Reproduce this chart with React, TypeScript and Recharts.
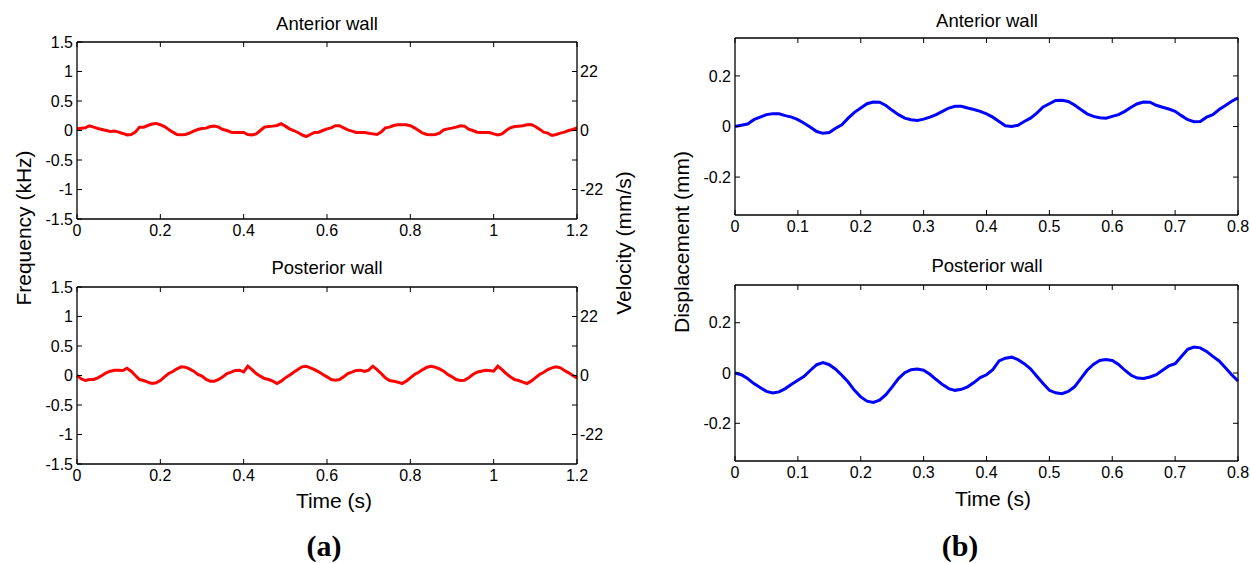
import { LineChart, Line, XAxis, YAxis } from 'recharts';

// time grids (s)
const timeA = Array.from({ length: 121 }, (_, i) => +(i * 0.01).toFixed(2));
const timeB = Array.from({ length: 81 }, (_, i) => +(i * 0.01).toFixed(2));

// (a) Doppler frequency shift, kHz
const anteriorFreq = [
  0.03, 0.04, 0.045, 0.08, 0.057, 0.035, 0.017, 0.0, -0.017, -0.01,
  -0.028, -0.05, -0.074, -0.068, -0.028, 0.057, 0.057, 0.085, 0.11, 0.12,
  0.097, 0.068, 0.017, -0.028, -0.068, -0.074, -0.068, -0.045, -0.011, 0.017,
  0.034, 0.04, 0.068, 0.074, 0.057, 0.017, 0, -0.028, -0.034, -0.034,
  -0.034, -0.068, -0.074, -0.057, 0, 0.057, 0.068, 0.074, 0.085, 0.114,
  0.074, 0.028, 0, -0.034, -0.074, -0.102, -0.068, -0.034, -0.028, 0,
  0.028, 0.045, 0.08, 0.08, 0.045, 0.011, -0.011, -0.034, -0.034, -0.034,
  -0.045, -0.057, -0.068, -0.028, 0.045, 0.057, 0.085, 0.097, 0.097, 0.097,
  0.08, 0.045, 0, -0.045, -0.068, -0.074, -0.068, -0.045, 0.011, 0.028,
  0.04, 0.057, 0.08, 0.074, 0.023, 0, -0.028, -0.034, -0.034, -0.034,
  -0.057, -0.074, -0.057, 0, 0.045, 0.068, 0.074, 0.08, 0.097, 0.102,
  0.068, 0.023, -0.028, -0.045, -0.085, -0.068, -0.045, -0.028, 0, 0.017,
  0.045,
];
const posteriorFreq = [
  0, -0.056, -0.085, -0.068, -0.068, -0.04, 0, 0.045, 0.073, 0.09,
  0.09, 0.085, 0.124, 0.073, 0, -0.068, -0.085, -0.113, -0.136, -0.124,
  -0.085, -0.023, 0.034, 0.068, 0.113, 0.147, 0.141, 0.113, 0.073, 0.017,
  -0.011, -0.068, -0.096, -0.096, -0.068, -0.023, 0.034, 0.056, 0.085, 0.09,
  0.062, 0.158, 0.1, 0.034, -0.011, -0.051, -0.068, -0.096, -0.136, -0.096,
  -0.04, 0.006, 0.056, 0.1, 0.147, 0.158, 0.13, 0.1, 0.062, 0.017,
  -0.023, -0.068, -0.079, -0.068, -0.023, 0.034, 0.056, 0.085, 0.09, 0.068,
  0.09, 0.158, 0.1, 0.034, -0.04, -0.085, -0.096, -0.113, -0.136, -0.096,
  -0.04, 0.017, 0.056, 0.1, 0.141, 0.158, 0.141, 0.113, 0.073, 0.017,
  -0.023, -0.068, -0.085, -0.079, -0.04, 0.017, 0.056, 0.073, 0.09, 0.085,
  0.073, 0.158, 0.1, 0.034, -0.023, -0.068, -0.085, -0.113, -0.136, -0.096,
  -0.04, 0.017, 0.056, 0.1, 0.13, 0.147, 0.13, 0.085, 0.045, 0,
  -0.04,
];

// (b) displacement, mm
const anteriorDisp = [
  0, 0.005, 0.01, 0.027, 0.037, 0.047, 0.05, 0.05, 0.043, 0.037,
  0.027, 0.013, -0.003, -0.02, -0.027, -0.024, -0.007, 0.007, 0.033, 0.056,
  0.073, 0.09, 0.097, 0.096, 0.083, 0.064, 0.047, 0.033, 0.027, 0.024,
  0.029, 0.037, 0.047, 0.06, 0.073, 0.08, 0.08, 0.073, 0.067, 0.06,
  0.05, 0.037, 0.02, 0.003, 0, 0.005, 0.02, 0.033, 0.053, 0.077,
  0.09, 0.103, 0.104, 0.099, 0.085, 0.067, 0.05, 0.04, 0.035, 0.033,
  0.04, 0.047, 0.06, 0.076, 0.09, 0.097, 0.096, 0.084, 0.076, 0.069,
  0.06, 0.043, 0.027, 0.019, 0.02, 0.037, 0.047, 0.067, 0.083, 0.1,
  0.113,
];
const posteriorDisp = [
  0, -0.007, -0.022, -0.042, -0.058, -0.073, -0.079, -0.075, -0.062, -0.045,
  -0.029, -0.013, 0.011, 0.033, 0.041, 0.033, 0.015, -0.009, -0.036, -0.069,
  -0.095, -0.112, -0.117, -0.108, -0.086, -0.055, -0.022, 0.001, 0.013, 0.016,
  0.011, -0.005, -0.026, -0.046, -0.062, -0.069, -0.065, -0.055, -0.038, -0.018,
  -0.007, 0.013, 0.048, 0.059, 0.063, 0.053, 0.037, 0.017, -0.013, -0.042,
  -0.069, -0.079, -0.082, -0.073, -0.055, -0.022, 0.011, 0.034, 0.05, 0.054,
  0.05, 0.034, 0.011, -0.009, -0.02, -0.022, -0.016, -0.007, 0.011, 0.028,
  0.037, 0.066, 0.094, 0.103, 0.1, 0.086, 0.066, 0.048, 0.021, -0.007,
  -0.032,
];

const ticksA = [0, 0.2, 0.4, 0.6, 0.8, 1, 1.2];
const ticksB = [0, 0.1, 0.2, 0.3, 0.4, 0.5, 0.6, 0.7, 0.8];
const freqTicks = [-1.5, -1, -0.5, 0, 0.5, 1, 1.5];
const velTicks = [-22, -11, 0, 11, 22];
const dispTicks = [-0.2, 0, 0.2];

const FONT = '"Liberation Sans", Arial, Helvetica, sans-serif';
const LW = 60;
const RW = 50;
const XH = 30;
const TH = 10; // room for the top (box) axis

const toRows = (t: number[], v: number[]) => t.map((x, i) => ({ t: x, v: v[i] }));
const blank = () => '';

type PanelProps = {
  left: number;
  top: number;
  w: number;
  h: number;
  rows: { t: number; v: number }[];
  color: string;
  xMax: number;
  xTicks: number[];
  yDomain: [number, number];
  yTicks: number[];
  velocity?: boolean;
};

function Panel({ left, top, w, h, rows, color, xMax, xTicks, yDomain, yTicks, velocity }: PanelProps) {
  const axisLine = { stroke: '#000', strokeWidth: 1.3 };
  const tickLine = { stroke: '#000', strokeWidth: 1 };
  const tickStyle = { fill: '#000', fontSize: 16 };
  return (
    <div style={{ position: 'absolute', left: left - LW, top: top - TH }}>
      <LineChart width={LW + w + RW} height={TH + h + XH} data={rows} margin={{ top: 0, right: 0, bottom: 0, left: 0 }}>
        <XAxis xAxisId="bottom" dataKey="t" type="number" domain={[0, xMax]} ticks={xTicks} interval={0}
          height={XH} tickSize={-5} tickMargin={11} axisLine={axisLine} tickLine={tickLine} tick={tickStyle} />
        <XAxis xAxisId="top" orientation="top" dataKey="t" type="number" domain={[0, xMax]} ticks={xTicks} interval={0}
          height={TH} tickSize={-5} axisLine={axisLine} tickLine={tickLine} tickFormatter={blank} />
        <YAxis yAxisId="left" type="number" domain={yDomain} ticks={yTicks} width={LW} interval={0}
          tickSize={-5} tickMargin={9} axisLine={axisLine} tickLine={tickLine} tick={tickStyle} />
        {velocity ? (
          <YAxis yAxisId="right" orientation="right" type="number" domain={[-33, 33]} ticks={velTicks} width={RW} interval={0}
            allowDataOverflow tickSize={-5} tickMargin={8} axisLine={axisLine} tickLine={tickLine} tick={tickStyle}
            tickFormatter={(v: number) => (Math.abs(v) === 11 ? '' : String(v))} />
        ) : (
          <YAxis yAxisId="right" orientation="right" type="number" domain={yDomain} ticks={yTicks} width={RW} interval={0}
            allowDataOverflow tickSize={-5} axisLine={axisLine} tickLine={tickLine} tickFormatter={blank} />
        )}
        {/* invisible copy bound to the box axes so they get their ticks */}
        <Line xAxisId="top" yAxisId="right" type="linear" dataKey="v" stroke="none" dot={false}
          activeDot={false} legendType="none" isAnimationActive={false} />
        <Line xAxisId="bottom" yAxisId="left" type="linear" dataKey="v" stroke={color} strokeWidth={3}
          dot={false} isAnimationActive={false} />
      </LineChart>
    </div>
  );
}

const label = (text: string, x: number, y: number, size: number) => ({ text, x, y, size });

const texts = [
  label('Anterior wall', 327, 29.5, 18.5),
  label('Posterior wall', 327, 274, 18.5),
  label('Anterior wall', 987, 26.5, 18.5),
  label('Posterior wall', 987, 272, 18.5),
  label('Time (s)', 334, 508, 21),
  label('Time (s)', 993, 506, 21),
];

export default function App() {
  return (
    <div style={{ position: 'absolute', left: 0, top: 0, width: 1250, height: 563, background: '#fff', fontFamily: FONT }}>
      <Panel left={77} top={42} w={500} h={177} rows={toRows(timeA, anteriorFreq)} color="#ff0000"
        xMax={1.2} xTicks={ticksA} yDomain={[-1.5, 1.5]} yTicks={freqTicks} velocity />
      <Panel left={77} top={287} w={500} h={177} rows={toRows(timeA, posteriorFreq)} color="#ff0000"
        xMax={1.2} xTicks={ticksA} yDomain={[-1.5, 1.5]} yTicks={freqTicks} velocity />
      <Panel left={735} top={38} w={503} h={177} rows={toRows(timeB, anteriorDisp)} color="#0000ff"
        xMax={0.8} xTicks={ticksB} yDomain={[-0.35, 0.35]} yTicks={dispTicks} />
      <Panel left={735} top={285} w={503} h={176} rows={toRows(timeB, posteriorDisp)} color="#0000ff"
        xMax={0.8} xTicks={ticksB} yDomain={[-0.35, 0.35]} yTicks={dispTicks} />
      <svg width={1250} height={563} style={{ position: 'absolute', left: 0, top: 0, pointerEvents: 'none' }}>
        {texts.map((t, i) => (
          <text key={i} x={t.x} y={t.y} textAnchor="middle" fontSize={t.size} fill="#000">{t.text}</text>
        ))}
        <text x={0} y={0} transform="translate(23,228) rotate(-90)" textAnchor="middle" dominantBaseline="central" fontSize={21}>Frequency (kHz)</text>
        <text x={0} y={0} transform="translate(623,243) rotate(-90)" textAnchor="middle" dominantBaseline="central" fontSize={21}>Velocity (mm/s)</text>
        <text x={0} y={0} transform="translate(681,242) rotate(-90)" textAnchor="middle" dominantBaseline="central" fontSize={21}>Displacement (mm)</text>
        <text x={324} y={556} textAnchor="middle" fontSize={30} fontWeight="bold" fontFamily='"Liberation Serif", "Times New Roman", serif'>(a)</text>
        <text x={960} y={556} textAnchor="middle" fontSize={30} fontWeight="bold" fontFamily='"Liberation Serif", "Times New Roman", serif'>(b)</text>
      </svg>
    </div>
  );
}
